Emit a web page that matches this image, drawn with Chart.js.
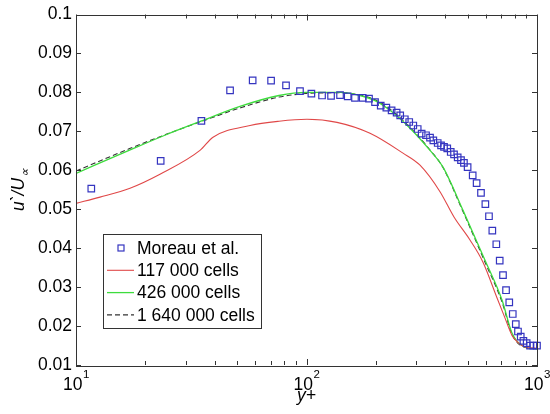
<!DOCTYPE html>
<html>
<head>
<meta charset="utf-8">
<script src="https://cdn.jsdelivr.net/npm/chart.js@4/dist/chart.umd.min.js"></script>
<style>
    body { margin: 0; background: #fff; }
    #chart { display: block; }
</style>
</head>
<body>
<canvas id="chart" width="550" height="414"></canvas>
<script>
// 데이터
const seriesNames = ['Moreau et al.', '117 000 cells', '426 000 cells', '1 640 000 cells'];

const moreauX = [11.65, 23.3, 35.0, 46.6, 58.4, 70.2, 81.5, 93.7, 105, 116.8, 127.8, 139.8, 150.9, 162.3, 175.3,
    186.7, 198.3, 209.9, 222, 234, 246, 255, 267, 279, 290.6, 303.7, 316, 330, 343.5, 355, 370.9, 383.5, 395,
    408, 422.4, 436.5, 452.8, 468, 482, 500, 526, 547, 571.5, 597, 619, 640, 666, 689, 712, 734, 758, 785,
    809, 827, 850, 873, 902, 933, 964, 1000];
const moreauY = [0.0553, 0.0624, 0.0727, 0.0805, 0.0831, 0.0830, 0.0818, 0.0803, 0.0797, 0.0792, 0.0791, 0.0793,
    0.0790, 0.0786, 0.0786, 0.0784, 0.0775, 0.0766, 0.0761, 0.0754, 0.0748, 0.0741, 0.0731, 0.0724, 0.0715,
    0.0706, 0.0694, 0.0690, 0.0684, 0.0677, 0.0670, 0.0664, 0.0660, 0.0656, 0.0647, 0.0641, 0.0633, 0.0626,
    0.0619, 0.0608, 0.0587, 0.0567, 0.0542, 0.0513, 0.0482, 0.0445, 0.0410, 0.0368, 0.0331, 0.0292, 0.0261,
    0.0231, 0.0205, 0.0186, 0.0173, 0.0162, 0.0156, 0.0150, 0.0150, 0.0150];

const coarseX = [10, 12.71, 17.15, 23.14, 34.5, 39.3, 56.9, 76, 100.5, 135.6, 188.6, 262.2, 310.8, 379.5,
    436.4, 512, 583, 671, 726, 779, 827, 887, 1000];
const coarseY = [0.0515, 0.0531, 0.0554, 0.0590, 0.0651, 0.0685, 0.0715, 0.0726, 0.0731, 0.0723, 0.0695,
    0.0644, 0.0613, 0.0545, 0.0480, 0.0421, 0.0364, 0.0272, 0.0221, 0.0176, 0.0158, 0.0146, 0.0143];

const mediumX = [10, 16.98, 24.3, 34.85, 51.45, 75.97, 99.5, 139.8, 170.7, 198.2, 230.3, 281.2, 343.5, 391,
    477.5, 595, 705, 779, 870, 1000];
const mediumY = [0.0592, 0.0651, 0.0690, 0.0726, 0.0764, 0.0792, 0.0800, 0.0800, 0.0792, 0.0779, 0.0754,
    0.0708, 0.0651, 0.0608, 0.0497, 0.0369, 0.0267, 0.0182, 0.0148, 0.0141];

const fineX = [10, 16.98, 24.3, 34.85, 51.45, 75.97, 99.5, 139.8, 170.7, 198.2, 230.3, 281.2, 343.5, 391,
    477.5, 595, 705, 779, 870, 1000];
const fineY = [0.0598, 0.0655, 0.0691, 0.0725, 0.0760, 0.0788, 0.0797, 0.0799, 0.0793, 0.0781, 0.0757,
    0.0710, 0.0652, 0.0607, 0.0494, 0.0364, 0.0262, 0.0179, 0.0147, 0.0142];

const yTicks = [0.01, 0.02, 0.03, 0.04, 0.05, 0.06, 0.07, 0.08, 0.09, 0.1];
const yTickLabels = ['0.01', '0.02', '0.03', '0.04', '0.05', '0.06', '0.07', '0.08', '0.09', '0.1'];
const xTicks = [10, 100, 1000];
const xTickExps = ['1', '2', '3'];

const FONT = "'Liberation Sans', Arial, sans-serif";

function toPoints(xs, ys) {
    return xs.map((x, i) => ({ x: x, y: ys[i] }));
}

// 축 상자, 눈금, x 라벨, 축 제목, 범례
const framePlugin = {
    id: 'frame',
    afterDraw(chart) {
        const ctx = chart.ctx;
        const a = chart.chartArea;
        const xs = chart.scales.x;
        const ys = chart.scales.y;
        ctx.save();
        ctx.strokeStyle = '#333';
        ctx.lineWidth = 1;

        // 눈금 (안쪽)
        ctx.beginPath();
        yTicks.forEach(v => {
            const y = Math.round(ys.getPixelForValue(v)) + 0.5;
            ctx.moveTo(a.left, y); ctx.lineTo(a.left + 5, y);
            ctx.moveTo(a.right, y); ctx.lineTo(a.right - 5, y);
        });
        for (let d = 10; d <= 1000; d *= 10) {
            for (let k = 1; k <= 9; k++) {
                const v = d * k;
                if (v > 1000) break;
                const len = k === 1 ? 6 : 4;
                const x = Math.round(xs.getPixelForValue(v)) + 0.5;
                ctx.moveTo(x, a.bottom); ctx.lineTo(x, a.bottom - len);
                ctx.moveTo(x, a.top); ctx.lineTo(x, a.top + len);
            }
        }
        ctx.stroke();
        ctx.strokeRect(Math.round(a.left) + 0.5, Math.round(a.top) + 0.5,
            Math.round(a.right - a.left), Math.round(a.bottom - a.top));

        // x 눈금 라벨 10^n
        ctx.fillStyle = '#000';
        ctx.textBaseline = 'alphabetic';
        xTicks.forEach((v, i) => {
            const x = xs.getPixelForValue(v);
            ctx.font = '17.5px ' + FONT;
            const wBase = ctx.measureText('10').width;
            ctx.font = '11.5px ' + FONT;
            const wExp = ctx.measureText(xTickExps[i]).width;
            const x0 = x - (wBase + wExp) / 2;
            ctx.font = '17.5px ' + FONT;
            ctx.textAlign = 'left';
            ctx.fillText('10', x0, a.bottom + 25);
            ctx.font = '11.5px ' + FONT;
            ctx.fillText(xTickExps[i], x0 + wBase + 0.5, a.bottom + 13);
        });

        // x 축 제목
        ctx.font = 'italic 17.5px ' + FONT;
        ctx.textAlign = 'center';
        ctx.fillText('y+', (a.left + a.right) / 2, a.bottom + 36);

        // y 축 제목 u`/U∞
        ctx.save();
        ctx.translate(24, 211);
        ctx.rotate(-Math.PI / 2);
        ctx.textAlign = 'left';
        ctx.font = 'italic 17.5px ' + FONT;
        const main = 'u`/U';
        ctx.fillText(main, 0, 0);
        const wMain = ctx.measureText(main).width;
        ctx.font = 'italic 12px ' + FONT;
        ctx.fillText('\u221D', wMain + 1, 5);
        ctx.restore();

        // 범례
        const bx = 103, by = 234, bw = 158, bh = 94;
        ctx.fillStyle = '#fff';
        ctx.fillRect(bx, by, bw, bh);
        ctx.strokeStyle = '#333';
        ctx.strokeRect(bx + 0.5, by + 0.5, bw, bh);
        ctx.font = '17.5px ' + FONT;
        ctx.textAlign = 'left';
        ctx.textBaseline = 'middle';
        chart.data.datasets.forEach((ds, i) => {
            const ry = by + 14 + i * 22.3;
            if (ds.showLine) {
                ctx.save();
                ctx.strokeStyle = ds.borderColor;
                ctx.lineWidth = ds.borderWidth;
                ctx.setLineDash(ds.borderDash || []);
                ctx.beginPath();
                ctx.moveTo(107, ry); ctx.lineTo(134, ry);
                ctx.stroke();
                ctx.restore();
            } else {
                ctx.save();
                ctx.strokeStyle = ds.pointBorderColor;
                ctx.lineWidth = 1.2;
                ctx.strokeRect(118, ry - 3, 6, 6);
                ctx.restore();
            }
            ctx.fillStyle = '#000';
            ctx.fillText(ds.label, 137, ry + 1);
        });
        ctx.restore();
    }
};

const ctx = document.getElementById('chart');
new Chart(ctx, {
    type: 'scatter',
    data: {
        datasets: [
            {
                label: seriesNames[0],
                data: toPoints(moreauX, moreauY),
                showLine: false,
                pointStyle: 'rect',
                pointRadius: 4.6,
                pointBorderWidth: 1.2,
                pointBorderColor: '#3535c0',
                pointBackgroundColor: 'rgba(0,0,0,0)',
                clip: false
            },
            {
                label: seriesNames[1],
                data: toPoints(coarseX, coarseY),
                showLine: true,
                borderColor: '#e04848',
                borderWidth: 1.1,
                pointRadius: 0,
                cubicInterpolationMode: 'monotone'
            },
            {
                label: seriesNames[2],
                data: toPoints(mediumX, mediumY),
                showLine: true,
                borderColor: '#3ddc3d',
                borderWidth: 1.3,
                pointRadius: 0,
                cubicInterpolationMode: 'monotone'
            },
            {
                label: seriesNames[3],
                data: toPoints(fineX, fineY),
                showLine: true,
                borderColor: '#333',
                borderWidth: 1.1,
                borderDash: [5, 3],
                pointRadius: 0,
                cubicInterpolationMode: 'monotone'
            }
        ]
    },
    options: {
        responsive: false,
        animation: false,
        devicePixelRatio: 1,
        layout: {
            padding: { left: 0, right: 13, top: 14, bottom: 0 }
        },
        plugins: {
            legend: { display: false },
            tooltip: { enabled: false }
        },
        scales: {
            x: {
                type: 'logarithmic',
                min: 10,
                max: 1000,
                grid: { display: false, drawTicks: false },
                border: { display: false },
                ticks: { display: false },
                afterFit(scale) { scale.height = 49; }
            },
            y: {
                min: 0.01,
                max: 0.1,
                grid: { display: false, drawTicks: false },
                border: { display: false },
                afterBuildTicks(scale) {
                    scale.ticks = yTicks.map(v => ({ value: v }));
                },
                ticks: {
                    padding: 4,
                    color: '#000',
                    font: { family: FONT, size: 17.5 },
                    callback: function(value) {
                        const i = yTicks.findIndex(t => Math.abs(t - value) < 1e-9);
                        return i >= 0 ? yTickLabels[i] : '';
                    }
                },
                afterFit(scale) { scale.width = 76; }
            }
        }
    },
    plugins: [framePlugin]
});
</script>
</body>
</html>
